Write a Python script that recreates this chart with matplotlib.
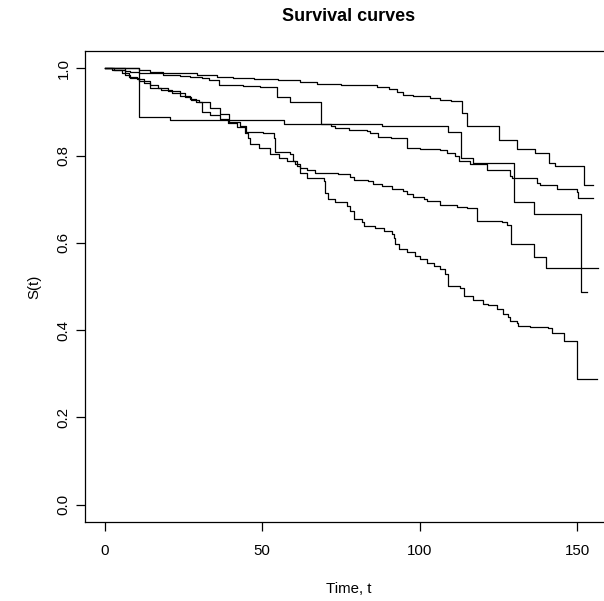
import matplotlib
matplotlib.use("Agg")
import matplotlib.pyplot as plt

plt.rcParams['font.family'] = ['Liberation Sans', 'DejaVu Sans']

# ---- data: Kaplan-Meier step curves (time, survival) ----
A_t = [0, 10.8, 14.5, 18.7, 29.3, 35.6, 40.9, 47.5, 55.0, 62.0, 67.3, 75.0, 86.4,
       90.1, 92.7, 94.8, 98.0, 103.3, 106.5, 110.0, 113.4, 114.9, 125.0, 130.8,
       136.6, 141.0, 142.9, 152.0]
A_s = [1.0, 0.996, 0.992, 0.990, 0.985, 0.981, 0.978, 0.976, 0.973, 0.970, 0.965,
       0.961, 0.957, 0.953, 0.947, 0.940, 0.936, 0.932, 0.928, 0.925, 0.898, 0.869,
       0.835, 0.816, 0.805, 0.784, 0.776, 0.732]
A_end = 155.1

B_t = [0, 6.6, 8.2, 10.8, 18.7, 24.0, 27.2, 31.0, 33.0, 36.2, 38.8, 44.0, 49.4,
       54.7, 58.9, 68.7, 71.8, 73.0, 77.6, 83.2, 84.3, 86.9, 91.0, 95.9, 100.1, 106.5,
       108.6, 111.2, 112.3, 116.0, 121.3, 128.7, 129.2, 137.1, 138.2, 143.5,
       149.8, 150.1]
B_s = [1.0, 0.995, 0.992, 0.989, 0.986, 0.983, 0.981, 0.977, 0.973, 0.963, 0.962,
       0.960, 0.958, 0.934, 0.922, 0.873, 0.867, 0.864, 0.858, 0.856, 0.852, 0.843,
       0.841, 0.818, 0.816, 0.812, 0.806, 0.800, 0.787, 0.780, 0.768, 0.754, 0.749,
       0.738, 0.732, 0.724, 0.716, 0.703]
B_end = 155.1

C_t = [0, 2.5, 5.5, 7.6, 10.3, 12.5, 14.5, 18.0, 21.5, 24.0, 27.0, 29.0, 30.9,
       33.5, 36.7, 39.3, 42.0, 44.5, 45.5, 46.3, 49.0, 52.6, 55.5, 58.0, 61.0,
       62.1, 64.2, 66.8, 74.2, 77.9, 79.0, 83.7, 85.3, 88.0, 91.1, 94.8, 95.9,
       98.0, 101.2, 102.2, 106.5, 111.8, 115.0, 118.1, 126.0, 127.8, 128.8,
       136.1, 140.1]
C_s = [1.0, 0.996, 0.990, 0.981, 0.975, 0.967, 0.956, 0.950, 0.943, 0.936, 0.930,
       0.922, 0.900, 0.893, 0.885, 0.875, 0.866, 0.852, 0.840, 0.826, 0.818, 0.803,
       0.795, 0.787, 0.777, 0.772, 0.768, 0.761, 0.757, 0.751, 0.745, 0.741, 0.736,
       0.730, 0.724, 0.719, 0.711, 0.706, 0.701, 0.696, 0.688, 0.683, 0.680, 0.650,
       0.648, 0.642, 0.597, 0.568, 0.542]
C_end = 156.6

D_t = [0, 10.8, 20.8, 56.8, 88.0, 108.8, 113.0, 117.0, 130.0, 136.1, 151.1]
D_s = [1.0, 0.889, 0.882, 0.873, 0.868, 0.854, 0.795, 0.784, 0.694, 0.667, 0.487]
D_end = 153.0

E_t = [0, 3.0, 6.6, 8.0, 11.0, 14.5, 17.0, 20.0, 24.0, 25.5, 27.5, 30.0, 33.5,
       36.7, 39.5, 43.0, 45.0, 50.4, 53.6, 54.1, 58.9, 59.9, 60.5, 62.1, 64.2,
       69.5, 70.0, 71.0, 73.2, 76.9, 77.9, 79.0, 81.6, 82.3, 85.9, 88.5, 91.1,
       91.9, 92.2, 93.3, 95.9, 98.5, 100.1, 102.2, 104.4, 106.5, 108.1, 109.1,
       112.8, 113.9, 117.0, 120.2, 121.5, 124.5, 126.5, 128.1, 128.7, 130.8,
       131.3, 135.0, 140.8, 141.9, 145.8, 150.0]
E_s = [1.0, 0.996, 0.986, 0.978, 0.971, 0.962, 0.955, 0.949, 0.943, 0.935, 0.928,
       0.922, 0.909, 0.895, 0.878, 0.867, 0.854, 0.851, 0.841, 0.808, 0.803, 0.787,
       0.780, 0.761, 0.749, 0.741, 0.715, 0.701, 0.693, 0.684, 0.673, 0.654, 0.648,
       0.638, 0.633, 0.627, 0.621, 0.612, 0.597, 0.587, 0.578, 0.570, 0.562, 0.555,
       0.547, 0.539, 0.528, 0.501, 0.497, 0.478, 0.469, 0.459, 0.457, 0.448, 0.436,
       0.429, 0.421, 0.416, 0.410, 0.406, 0.404, 0.394, 0.375, 0.288]
E_end = 156.2

curves = [(A_t, A_s, A_end), (B_t, B_s, B_end), (C_t, C_s, C_end),
          (D_t, D_s, D_end), (E_t, E_s, E_end)]

x_ticks = [0, 50, 100, 150]
y_ticks = [0.0, 0.2, 0.4, 0.6, 0.8, 1.0]

title = "Survival curves"
xlabel = "Time, t"
ylabel = "S(t)"

# ---- figure ----
W, H = 604, 601
fig = plt.figure(figsize=(W / 100, H / 100), dpi=100)
L, R, T, Bm = 85, 613, 51, 522
ax = fig.add_axes([L / W, 1 - Bm / H, (R - L) / W, (Bm - T) / H])

for t, s, end in curves:
    ax.step(list(t) + [end], list(s) + [s[-1]], where='post', color='black',
            linewidth=0.9)

ax.set_xlim(-6.2, 161.3)
ax.set_ylim(-0.04, 1.04)
ax.set_xticks(x_ticks)
ax.set_xticklabels([str(v) for v in x_ticks])
ax.set_yticks(y_ticks)
ax.set_yticklabels(["%.1f" % v for v in y_ticks])

for sp in ax.spines.values():
    sp.set_linewidth(0.9)
    sp.set_color('black')

ax.tick_params(axis='both', direction='out', length=6.5, width=0.9,
               labelsize=10.8, colors='black')
ax.tick_params(axis='x', pad=9.0)
ax.tick_params(axis='y', pad=4.0)
for lab in ax.get_yticklabels():
    lab.set_rotation(90)
    lab.set_va('center')

fig.text(349 / W, 1 - 20.7 / H, title, ha='center', va='baseline',
         fontsize=13, fontweight='bold')
fig.text(349 / W, 1 - 593.4 / H, xlabel, ha='center', va='baseline',
         fontsize=10.8)
fig.text(34 / W, 1 - 286.5 / H, ylabel, ha='center', va='center',
         rotation=90, fontsize=10.8)

fig.savefig("out.png", dpi=100)
